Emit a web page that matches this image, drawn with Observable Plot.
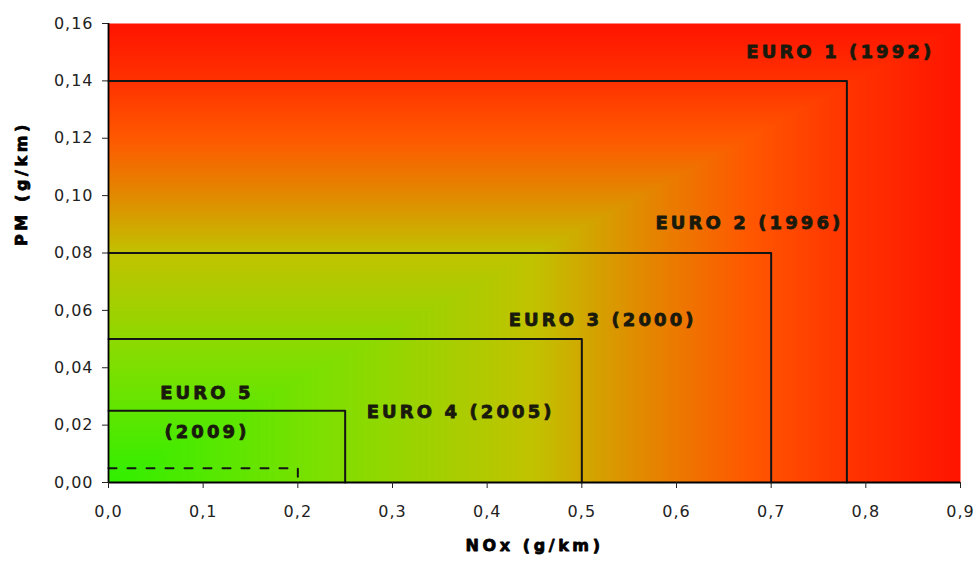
<!DOCTYPE html>
<html>
<head>
<meta charset="utf-8">
<script src="https://cdn.jsdelivr.net/npm/d3@7"></script>
<script src="https://cdn.jsdelivr.net/npm/@observablehq/plot@0.6"></script>
<style>
  html, body { margin: 0; padding: 0; background: #fff; }
  svg g[font-weight="bold"][font-size="18"] { letter-spacing: 3.1px; }
  svg g[font-weight="bold"][font-size="16"] { letter-spacing: 3.6px; }
  svg g[aria-label$="tick label"] { letter-spacing: 1px; }
</style>
</head>
<body>
<div id="chart"></div>
<script>
// Emission standards (diesel cars)
const standards = ["EURO 1", "EURO 2", "EURO 3", "EURO 4", "EURO 5"];
const years = ["1992", "1996", "2000", "2005", "2009"];
const noxLimits = [0.78, 0.70, 0.50, 0.25, 0.20];   // g/km
const pmLimits = [0.14, 0.08, 0.05, 0.025, 0.005];  // g/km
const dashed = [false, false, false, false, true];

// Label annotations (data coordinates)
const labelTexts = ["EURO 1 (1992)", "EURO 2 (1996)", "EURO 3 (2000)", "EURO 4 (2005)", "EURO 5", "(2009)"];
const labelX = [0.773, 0.677, 0.522, 0.372, 0.104, 0.104];
const labelY = [0.1500, 0.0903, 0.0565, 0.0244, 0.0310, 0.0174];

// Axes
const xDomain = [0, 0.9];
const yDomain = [0, 0.16];
const xTicks = [0, 0.1, 0.2, 0.3, 0.4, 0.5, 0.6, 0.7, 0.8, 0.9];
const yTicks = [0, 0.02, 0.04, 0.06, 0.08, 0.10, 0.12, 0.14, 0.16];
const xTitle = "NOx (g/km)";
const yTitle = "PM (g/km)";

// Background gradient ("from corner") colour stops
const gradStops = [0, 0.25, 0.5, 0.625, 0.75, 0.875, 1];
const gradColors = ["#30ef00", "#7de000", "#c2c200", "#e28a00", "#ff5800", "#ff3200", "#ff1400"];

// Build outline rows: (0,pm) -> (nox,pm) -> (nox,0)
const outline = [];
standards.forEach((s, i) => {
  outline.push({name: s, dashed: dashed[i], x: 0, y: pmLimits[i]});
  outline.push({name: s, dashed: dashed[i], x: noxLimits[i], y: pmLimits[i]});
  outline.push({name: s, dashed: dashed[i], x: noxLimits[i], y: 0});
});
const labels = labelTexts.map((t, i) => ({text: t, x: labelX[i], y: labelY[i]}));

const comma = (d, n) => d.toFixed(n).replace(".", ",");
const ink = "#1a1a0c";

const chart = Plot.plot({
  width: 979,
  height: 564,
  marginTop: 23,
  marginRight: 19,
  marginBottom: 82,
  marginLeft: 108,
  style: {fontFamily: "'DejaVu Sans', sans-serif", fontSize: "16px", color: "#222", background: "#fff"},
  x: {domain: xDomain},
  y: {domain: yDomain},
  color: {type: "linear", domain: gradStops, range: gradColors, interpolate: "rgb"},
  marks: [
    Plot.raster({
      x1: xDomain[0], x2: xDomain[1], y1: yDomain[0], y2: yDomain[1],
      fill: (x, y) => Math.max(x / xDomain[1], y / yDomain[1]),
      pixelSize: 1
    }),
    Plot.line(outline.filter(d => !d.dashed), {x: "x", y: "y", z: "name", stroke: "#141414", strokeWidth: 2}),
    Plot.line(outline.filter(d => d.dashed), {x: "x", y: "y", z: "name", stroke: "#141414", strokeWidth: 2, strokeDasharray: "8,11"}),
    Plot.text(labels, {x: "x", y: "y", text: "text", fontSize: 18, fontWeight: "bold", fill: ink, stroke: ink, strokeWidth: 0.8, textAnchor: "middle"}),
    Plot.ruleX([0], {stroke: "#000", strokeWidth: 1.8}),
    Plot.ruleY([0], {stroke: "#000", strokeWidth: 1.8}),
    Plot.axisX({ticks: xTicks, tickFormat: d => comma(d, 1), tickSize: 6, tickPadding: 17, label: null, fontSize: 16}),
    Plot.axisY({ticks: yTicks, tickFormat: d => comma(d, 2), tickSize: 6, tickPadding: 9, label: null, fontSize: 16}),
    Plot.text([xTitle], {frameAnchor: "bottom", dy: 68, text: d => d, fontSize: 16, fontWeight: "bold", fill: "#000", stroke: "#000", strokeWidth: 0.8}),
    Plot.text([yTitle], {frameAnchor: "left", dx: -87, dy: -7, rotate: -90, text: d => d, fontSize: 16, fontWeight: "bold", fill: "#000", stroke: "#000", strokeWidth: 0.8})
  ]
});
document.getElementById("chart").appendChild(chart);
</script>
</body>
</html>
